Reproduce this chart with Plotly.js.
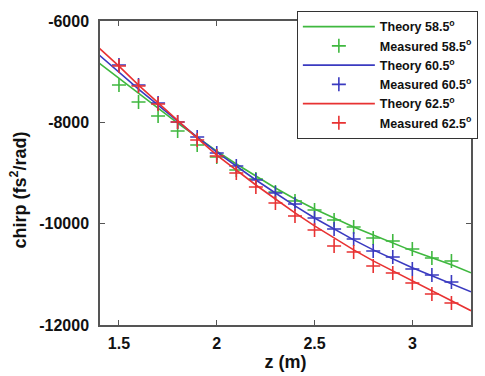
<!DOCTYPE html>
<html>
<head>
<meta charset="utf-8">
<script src="https://cdn.plot.ly/plotly-3.0.1.min.js"></script>
<style>html,body{margin:0;padding:0;background:#fff;}#chart{width:485px;height:376px;}</style>
</head>
<body>
<div id="chart"></div>
<script>
// Theory curves sampled along z
const zTheory = [1.4,1.5,1.6,1.7,1.8,1.9,2.0,2.1,2.2,2.3,2.4,2.5,2.6,2.7,2.8,2.9,3.0,3.1,3.2,3.3];
const theory585 = [-6833,-7129,-7424,-7720,-8015,-8291,-8567,-8823,-9059,-9296,-9512,-9709,-9887,-10064,-10222,-10379,-10537,-10675,-10813,-10970];
const theory605 = [-6676,-7011,-7346,-7661,-7976,-8291,-8587,-8862,-9138,-9394,-9650,-9887,-10103,-10320,-10517,-10695,-10872,-11029,-11187,-11345];
const theory625 = [-6538,-6892,-7267,-7621,-7976,-8311,-8646,-8941,-9237,-9513,-9788,-10044,-10281,-10517,-10734,-10931,-11128,-11325,-11522,-11719];

// Measured points
const zMeas = [1.5,1.6,1.7,1.8,1.9,2.0,2.1,2.2,2.3,2.4,2.5,2.6,2.7,2.8,2.9,3.0,3.1,3.2];
const meas585 = [-7263,-7599,-7875,-8171,-8448,-8685,-8941,-9119,-9375,-9553,-9731,-9928,-10066,-10284,-10343,-10500,-10678,-10737];
const meas605 = [-6869,-7263,-7619,-7994,-8290,-8606,-8862,-9139,-9395,-9612,-9889,-10106,-10303,-10540,-10658,-10895,-11014,-11152];
const meas625 = [-6888,-7283,-7638,-7994,-8349,-8665,-9000,-9277,-9593,-9849,-10126,-10442,-10560,-10836,-10974,-11172,-11389,-11566];

const names = ['Theory 58.5<sup>o</sup>','Measured 58.5<sup>o</sup>','Theory 60.5<sup>o</sup>','Measured 60.5<sup>o</sup>','Theory 62.5<sup>o</sup>','Measured 62.5<sup>o</sup>'];
const xTicks = [1.5,2,2.5,3];
const xTickText = ['1.5','2','2.5','3'];
const yTicks = [-6000,-8000,-10000,-12000];
const yTickText = ['-6000','-8000','-10000','-12000'];

const GREEN = '#3fb83f', BLUE = '#3a3ac0', RED = '#e83232';
function bold(s){ return '<b>' + s + '</b>'; }
function line(y, c, n){ return {x:zTheory, y:y, mode:'lines', name:bold(n), line:{color:c, width:1.6}}; }
function pts(y, c, n){ return {x:zMeas, y:y, mode:'markers', name:bold(n), marker:{symbol:'cross-thin', size:10, color:c, line:{color:c, width:1.6}}}; }

const data = [
  line(theory585, GREEN, names[0]), pts(meas585, GREEN, names[1]),
  line(theory605, BLUE, names[2]), pts(meas605, BLUE, names[3]),
  line(theory625, RED, names[4]), pts(meas625, RED, names[5])
];

const FONT = 'Arial, "Liberation Sans", sans-serif';
const layout = {
  width:485, height:376,
  margin:{l:100, r:7, t:21, b:51},
  paper_bgcolor:'#fff', plot_bgcolor:'#fff',
  font:{family:FONT, color:'#111', size:12},
  showlegend:true,
  xaxis:{
    range:[1.403,3.3], tickvals:xTicks, ticktext:xTickText.map(bold),
    ticks:'inside', ticklen:5, tickwidth:1.2, tickcolor:'#555',
    showline:true, linecolor:'#555', linewidth:1.5, mirror:'ticks',
    showgrid:false, zeroline:false,
    tickfont:{family:FONT, size:16, color:'#111'},
    ticklabelstandoff:3,
    title:{text:'<b>z (m)</b>', font:{family:FONT, size:18, color:'#111'}, standoff:3}
  },
  yaxis:{
    range:[-12000,-6000], tickvals:yTicks, ticktext:yTickText.map(bold),
    ticks:'inside', ticklen:5, tickwidth:1.2, tickcolor:'#555',
    showline:true, linecolor:'#555', linewidth:1.5, mirror:'ticks',
    showgrid:false, zeroline:false,
    tickfont:{family:FONT, size:16, color:'#111'},
    ticklabelstandoff:6
  },
  annotations:[{
    text:'<b>chirp (fs<sup>2</sup>/rad)</b>', xref:'paper', yref:'paper',
    x:-0.219, y:0.445, xanchor:'center', yanchor:'middle', textangle:-90,
    showarrow:false, font:{family:FONT, size:18, color:'#111'}
  }],
  legend:{
    x:1.0185, y:1.033, xanchor:'right', yanchor:'top',
    bgcolor:'#fff', bordercolor:'#333', borderwidth:1,
    font:{family:FONT, size:12.5, color:'#111'},
    tracegroupgap:0, itemwidth:72
  }
};

Plotly.newPlot('chart', data, layout, {displayModeBar:false});
</script>
</body>
</html>
